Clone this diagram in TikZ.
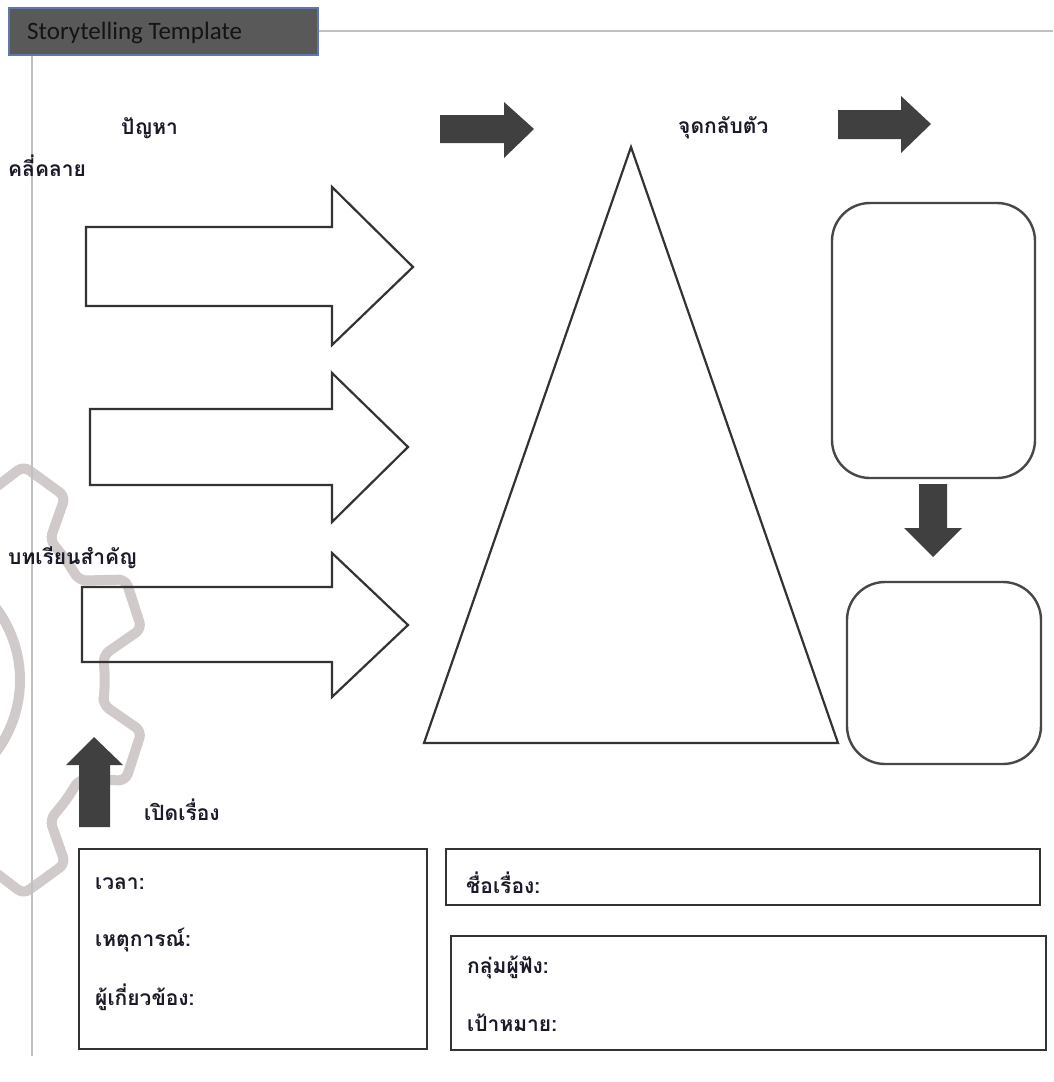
\documentclass[tikz,border=0pt]{standalone}
\usepackage{fontspec}
\setsansfont{Carlito}
\newfontfamily\thaifont[Script=Thai]{Loma}
\definecolor{darkfill}{HTML}{404040}
\definecolor{outline}{HTML}{333333}
\definecolor{hdrfill}{HTML}{595959}
\definecolor{hdrborder}{HTML}{5B78B0}
\definecolor{rule}{HTML}{C0C0C0}
\definecolor{gearcol}{HTML}{D0CACA}
\definecolor{thaitext}{HTML}{1A1A28}
\tikzset{
  hollowarrow/.style={draw=outline, line width=2.2pt, line join=miter},
  solidarrow/.style={fill=darkfill, draw=none},
  roundbox/.style={draw=outline!90, line width=2.4pt, rounded corners=38pt},
  formbox/.style={draw=outline, line width=2.6pt},
  thailabel/.style={inner sep=0pt, anchor=west, text=thaitext, font=\thaifont\bfseries\fontsize{21}{24}\selectfont},
  gearline/.style={draw=gearcol, line width=10pt, line join=round, rounded corners=7pt},
  ruleline/.style={draw=rule, line width=2.5pt}
}
\begin{document}
\begin{tikzpicture}[x=1pt,y=-1pt]
\useasboundingbox (0,0) rectangle (1053,1082);
\fill[white] (0,0) rectangle (1053,1082);

% gear watermark
\begin{scope}
\clip (0,0) rectangle (1053,1082);
\begin{scope}[shift={(-100,680)}]
\draw[gearline] (7:205) \foreach \a in {18,54,...,342} { -- ({\a-11}:205) -- ({\a-6}:247) -- ({\a+6}:247) -- ({\a+11}:205) -- ({\a+18}:205) } -- cycle;
\draw[draw=gearcol, line width=10pt] (0,0) circle[radius=120];
\end{scope}
\end{scope}

% guide lines
\draw[ruleline] (317,31) -- (1053,31);
\draw[ruleline] (32,54) -- (32,1056);

% header
\node[draw=hdrborder, fill=hdrfill, line width=1.8pt, minimum width=309pt, minimum height=47pt, anchor=north west, inner sep=0pt] (hdr) at (8,7) {};
\node[anchor=west, inner sep=0pt, text=black!92, font=\sffamily\fontsize{25}{28}\selectfont] (hdrtxt) at (27,33) {Storytelling Template};

% labels
\node[thailabel] (problem) at (121,128) {ปัญหา};
\node[thailabel] (resolve) at (8,166) {คลี่คลาย};
\node[thailabel] (turn) at (678,128) {จุดกลับตัว};
\node[thailabel] (lesson) at (8,558) {บทเรียนสำคัญ};
\node[thailabel] (opening) at (144,810) {เปิดเรื่อง};

% solid arrows
\path[solidarrow] (440,115) -- (504,115) -- (504,102) -- (534,129) -- (504,158) -- (504,143) -- (440,143) -- cycle;
\path[solidarrow] (838,110) -- (901,110) -- (901,96) -- (931,124) -- (901,153) -- (901,139) -- (838,139) -- cycle;
\path[solidarrow] (919,484) -- (947,484) -- (947,528) -- (962,528) -- (933,557) -- (904,528) -- (919,528) -- cycle;
\path[solidarrow] (79,827) -- (110,827) -- (110,765) -- (123,765) -- (94,737) -- (66,765) -- (79,765) -- cycle;

% hollow arrows
\draw[hollowarrow] (86,227) -- (332,227) -- (332,187) -- (413,267) -- (332,345) -- (332,306) -- (86,306) -- cycle;
\draw[hollowarrow] (90,409) -- (332,409) -- (332,373) -- (408,447) -- (332,522) -- (332,485) -- (90,485) -- cycle;
\draw[hollowarrow] (82,587) -- (332,587) -- (332,553) -- (408,625) -- (332,697) -- (332,662) -- (82,662) -- cycle;

% triangle
\draw[hollowarrow, line join=miter] (631,147) -- (838,743) -- (424,743) -- cycle;

% rounded boxes
\draw[roundbox] (832,203) rectangle (1035,478);
\draw[roundbox] (847,582) rectangle (1041,764);

% form boxes
\draw[formbox] (79,849) rectangle (427,1049);
\draw[formbox] (446,849) rectangle (1040,905);
\draw[formbox] (451,936) rectangle (1046,1050);

\node[thailabel] (time) at (95,884) {เวลา:};
\node[thailabel] (event) at (95,940) {เหตุการณ์:};
\node[thailabel] (people) at (95,997) {ผู้เกี่ยวข้อง:};
\node[thailabel] (title) at (466,883) {ชื่อเรื่อง:};
\node[thailabel] (audience) at (467,967) {กลุ่มผู้ฟัง:};
\node[thailabel] (goal) at (467,1023) {เป้าหมาย:};
\end{tikzpicture}
\end{document}
